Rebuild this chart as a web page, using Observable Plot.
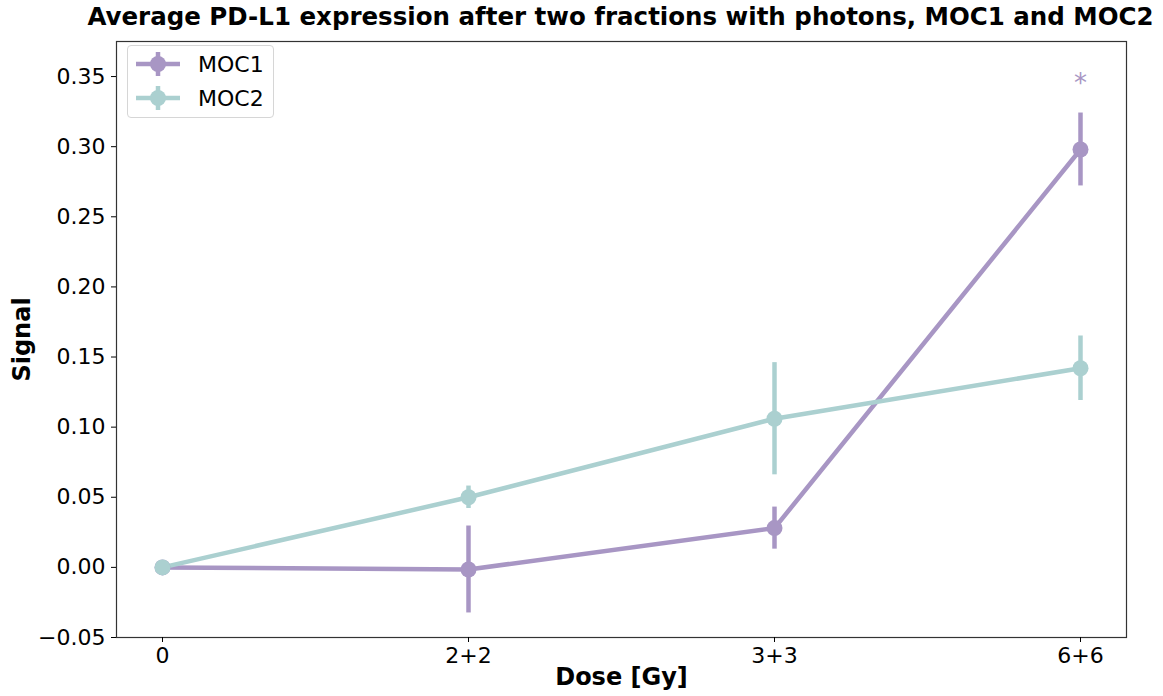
<!DOCTYPE html>
<html>
<head>
<meta charset="utf-8">
<script src="https://cdn.jsdelivr.net/npm/d3@7"></script>
<script src="https://cdn.jsdelivr.net/npm/@observablehq/plot@0.6"></script>
<style>
  body { margin: 0; background: #fff; font-family: "DejaVu Sans", sans-serif; }
  #wrap { position: relative; width: 1163px; height: 696px; }
  #title { position: absolute; left: 0; top: 2px; width: 1241px; text-align: center; font-weight: bold; font-size: 24.5px; color: #000; white-space: nowrap; }
  #chart { position: absolute; left: 0; top: 33px; }
  #legend { position: absolute; left: 127px; top: 45px; width: 145px; height: 71px; border: 1px solid #d6d6d6; border-radius: 4px; background: #fff; font-size: 22px; }
  .item { position: absolute; left: 6px; display: flex; align-items: center; }
  .item span { margin-left: 16px; }
</style>
</head>
<body>
<div id="wrap">
  <div id="title">Average PD-L1 expression after two fractions with photons, MOC1 and MOC2</div>
  <div id="chart"></div>
  <div id="legend"></div>
</div>
<script>
const doses = ["0", "2+2", "3+3", "6+6"];
const series = ["MOC1", "MOC2"];
const moc1Mean = [0, -0.0015, 0.028, 0.298];
const moc1Err  = [0, 0.031, 0.015, 0.026];
const moc2Mean = [0, 0.050, 0.106, 0.142];
const moc2Err  = [0, 0.008, 0.040, 0.023];
const colors = ["#a896c4", "#abd0d0"];
const yTicks = [-0.05, 0, 0.05, 0.10, 0.15, 0.20, 0.25, 0.30, 0.35];
const sigMarks = [{dose: "6+6", y: 0.345, label: "*", series: "MOC1"}];

const data = [];
doses.forEach((d, i) => {
  data.push({dose: d, series: "MOC1", y: moc1Mean[i], e: moc1Err[i]});
  data.push({dose: d, series: "MOC2", y: moc2Mean[i], e: moc2Err[i]});
});

const chart = Plot.plot({
  width: 1163,
  height: 663,
  marginTop: 8,
  marginLeft: 116,
  marginRight: 37,
  marginBottom: 59,
  style: {fontFamily: "DejaVu Sans, sans-serif", fontSize: "22px", color: "#000", background: "#fff"},
  x: {type: "point", domain: doses, padding: 0.15, label: null},
  y: {domain: [-0.05, 0.375], label: null},
  color: {domain: series, range: colors},
  marks: [
    Plot.frame({stroke: "#333", strokeWidth: 1.2}),
    Plot.line(data, {x: "dose", y: "y", stroke: "series", strokeWidth: 4.5, z: "series"}),
    Plot.ruleX(data, {x: "dose", y1: d => d.y - d.e, y2: d => d.y + d.e, stroke: "series", strokeWidth: 4.5}),
    Plot.dot(data, {x: "dose", y: "y", fill: "series", r: 8}),
    Plot.text(sigMarks, {x: "dose", y: "y", text: "label", fill: "series", fontSize: 26}),
    Plot.axisX({tickSize: 5, tickPadding: 5, fontSize: 22, label: null}),
    Plot.axisY({ticks: yTicks, tickFormat: d3.format(".2f"), tickSize: 5, tickPadding: 6, fontSize: 22, label: null}),
    Plot.text(["Dose [Gy]"], {frameAnchor: "bottom", dy: 47, fontWeight: "bold", fontSize: 24}),
    Plot.text(["Signal"], {frameAnchor: "left", textAnchor: "middle", dx: -94, rotate: -90, fontWeight: "bold", fontSize: 24})
  ]
});
document.getElementById("chart").appendChild(chart);

const legend = document.getElementById("legend");
series.forEach((s, i) => {
  const div = document.createElement("div");
  div.className = "item";
  div.style.top = (i === 0 ? 4 : 38) + "px";
  div.innerHTML = `<svg width="48" height="28"><line x1="2" x2="46" y1="14" y2="14" stroke="${colors[i]}" stroke-width="4.5"/><line x1="24" x2="24" y1="2" y2="26" stroke="${colors[i]}" stroke-width="4.5"/><circle cx="24" cy="14" r="8" fill="${colors[i]}"/></svg><span>${s}</span>`;
  legend.appendChild(div);
});
</script>
</body>
</html>
